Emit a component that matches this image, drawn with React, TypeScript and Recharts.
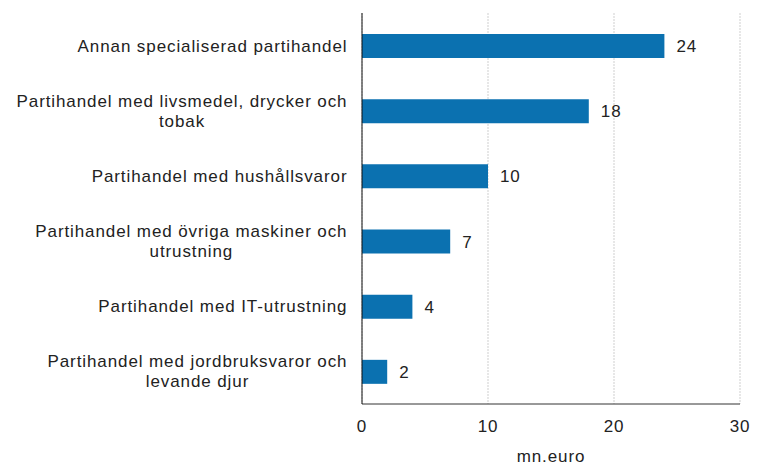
import { BarChart, Bar, XAxis, YAxis, CartesianGrid, LabelList } from 'recharts'

const categories = [
  'Annan specialiserad partihandel',
  'Partihandel med livsmedel, drycker och|tobak',
  'Partihandel med hushållsvaror',
  'Partihandel med övriga maskiner och|utrustning',
  'Partihandel med IT-utrustning',
  'Partihandel med jordbruksvaror och|levande djur',
]
const values = [24, 18, 10, 7, 4, 2]
const xTicks = [0, 10, 20, 30]

const FONT = 'Arial, "Liberation Sans", sans-serif'
const SIZE = 17
const LS = 0.9

const data = categories.map((name, i) => ({ name, value: values[i] }))

let ctx: CanvasRenderingContext2D | null = null
function textWidth(s: string) {
  if (!ctx) ctx = document.createElement('canvas').getContext('2d')
  const base = ctx ? (ctx.font = `${SIZE}px ${FONT}`, ctx.measureText(s).width) : s.length * 8.5
  return base + (s.length - 1) * LS
}

function CategoryTick(props: any) {
  const { y, payload } = props
  const lines: string[] = String(payload.value).split('|')
  const w = Math.max(...lines.map(textWidth))
  const cx = 347 - w / 2
  const lh = 20
  const y0 = y - ((lines.length - 1) * lh) / 2
  return (
    <text x={cx} y={y0} textAnchor="middle" fontSize={SIZE} fontFamily={FONT} fill="#222" letterSpacing={LS}>
      {lines.map((l, i) => (
        <tspan key={i} x={cx} y={y0 + i * lh} dy="0.35em">
          {l}
        </tspan>
      ))}
    </text>
  )
}

export default function App() {
  return (
    <div style={{ position: 'absolute', left: 0, top: 0, background: '#fff' }}>
      <BarChart
        width={757}
        height={465}
        data={data}
        layout="vertical"
        margin={{ top: 13, right: 17, left: 0, bottom: 0 }}
      >
        <CartesianGrid horizontal={false} stroke="#cfcfcf" strokeDasharray="2 1" />
        <XAxis
          type="number"
          domain={[0, 30]}
          ticks={xTicks}
          tickLine={false}
          axisLine={{ stroke: '#333' }}
          height={61}
          tick={{ fontSize: SIZE, fontFamily: FONT, fill: '#222', dy: 8, letterSpacing: LS }}
          label={{ value: 'mn.euro', position: 'insideBottom', offset: 3, fontSize: SIZE, fontFamily: FONT, fill: '#222', letterSpacing: LS }}
        />
        <YAxis
          type="category"
          dataKey="name"
          width={362}
          tickLine={false}
          axisLine={{ stroke: '#111' }}
          tick={<CategoryTick />}
          interval={0}
        />
        <Bar dataKey="value" fill="#0b71b0" barSize={24} isAnimationActive={false}>
          <LabelList dataKey="value" position="right" offset={12} fontSize={SIZE} fontFamily={FONT} fill="#222" letterSpacing={LS} />
        </Bar>
      </BarChart>
    </div>
  )
}
